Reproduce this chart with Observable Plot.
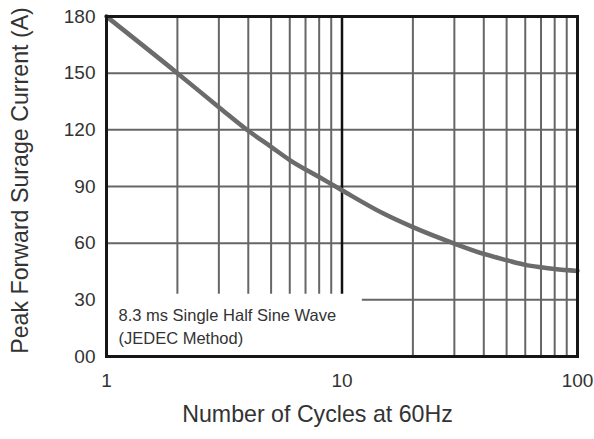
<!DOCTYPE html>
<html>
<head>
<meta charset="utf-8">
<script src="https://cdn.jsdelivr.net/npm/d3@7"></script>
<script src="https://cdn.jsdelivr.net/npm/@observablehq/plot@0.6"></script>
<style>
  html, body { margin: 0; padding: 0; background: #fff; }
  #chart svg { display: block; }
</style>
</head>
<body>
<div id="chart"></div>
<script>
// Curve data
const cycles  = [1, 2, 3, 4, 5, 6, 8, 10, 15, 20, 30, 40, 50, 60, 70, 80, 100];
const current = [180, 150, 132, 119.5, 111, 104, 95, 88, 75.7, 68.5, 59.8, 54.3, 51, 48.5, 47.2, 46.3, 45.3];

// Axis ticks
const xTicks = [1, 10, 100];
const yTicks = [0, 30, 60, 90, 120, 150, 180];

// Grid lines
const minorLow  = [2, 3, 4, 5, 6, 7, 8, 9];        // cut by the note box
const minorHigh = [20, 30, 40, 50, 60, 70, 80, 90]; // full height
const decadeLine = [10];
const hGridFull = [60, 90, 120, 150];
const hGridCut  = [30];

// Note box extent (data units) and note text
const noteBoxX = [1, 12.2];
const noteBoxTop = 33;
const noteText = "8.3 ms Single Half Sine Wave\n(JEDEC Method)";
const xLabel = "Number of Cycles at 60Hz";
const yLabel = "Peak Forward Surage Current (A)";

const data = cycles.map((c, i) => ({c, a: current[i]}));

const gridColor = "#666";
const textColor = "#333";

const chart = Plot.plot({
  width: 594,
  height: 439,
  marginTop: 16,
  marginLeft: 106,
  marginRight: 17,
  marginBottom: 83,
  style: {fontFamily: "'Liberation Sans', Arial, sans-serif", background: "#fff", color: textColor},
  x: {type: "log", domain: [1, 100]},
  y: {domain: [0, 180]},
  marks: [
    // vertical grid
    Plot.ruleX(minorLow, {y1: noteBoxTop, y2: 180, stroke: gridColor, strokeWidth: 2}),
    Plot.ruleX(minorHigh, {y1: 0, y2: 180, stroke: gridColor, strokeWidth: 2}),
    // horizontal grid
    Plot.ruleY(hGridFull, {x1: 1, x2: 100, stroke: gridColor, strokeWidth: 2}),
    Plot.ruleY(hGridCut, {x1: noteBoxX[1], x2: 100, stroke: gridColor, strokeWidth: 2}),
    // decade line
    Plot.ruleX(decadeLine, {y1: noteBoxTop, y2: 180, stroke: "#111", strokeWidth: 2.5}),
    // curve
    Plot.line(data, {x: "c", y: "a", stroke: "#6b6b6b", strokeWidth: 4.5, curve: "monotone-x"}),
    // frame
    Plot.frame({stroke: "#161616", strokeWidth: 3}),
    // axes
    Plot.axisX({ticks: xTicks, tickFormat: d => String(d), tickSize: 0, tickPadding: 17, fontSize: 19, label: null, fill: textColor}),
    Plot.axisY({ticks: yTicks, tickFormat: d => d === 0 ? "00" : String(d), tickSize: 0, tickPadding: 11, fontSize: 19, label: null, fill: textColor}),
    // note
    Plot.text([noteText], {frameAnchor: "bottom-left", textAnchor: "start", lineAnchor: "bottom", lineHeight: 1.37, dx: 12, dy: -13, fontSize: 16.5, fill: textColor, text: d => d}),
    // axis labels
    Plot.text([xLabel], {frameAnchor: "bottom", textAnchor: "middle", dx: -24.5, dy: 65, fontSize: 23.2, fill: textColor, text: d => d}),
    Plot.text([yLabel], {frameAnchor: "left", textAnchor: "middle", rotate: -90, dx: -86, dy: -6, fontSize: 23.2, fill: textColor, text: d => d})
  ]
});

document.getElementById("chart").appendChild(chart);
</script>
</body>
</html>
